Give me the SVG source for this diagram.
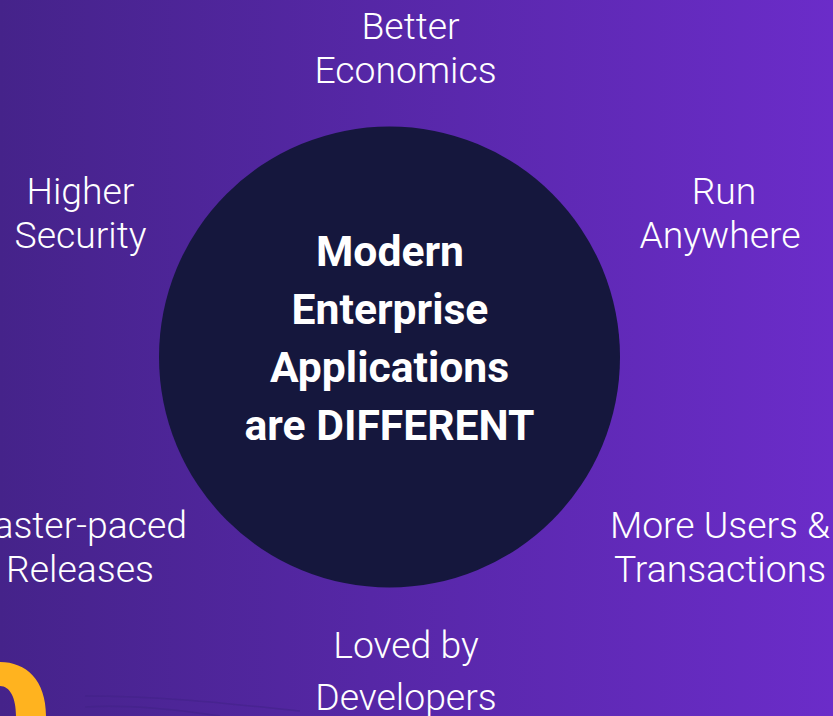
<svg xmlns="http://www.w3.org/2000/svg" width="833" height="716" viewBox="0 0 833 716">
<style>
.l{font-family:Roboto,"Liberation Sans",sans-serif;font-weight:300;font-size:37.33px;fill:#fff;text-anchor:middle}
.c{font-family:Roboto,"Liberation Sans",sans-serif;font-weight:700;font-size:42.67px;fill:#fff;text-anchor:middle}
</style>
<defs><linearGradient id="bg" x1="0" y1="0" x2="1" y2="0"><stop offset="0" stop-color="#45238a"/><stop offset="1" stop-color="#6b2cc9"/></linearGradient></defs>
<rect width="833" height="716" fill="url(#bg)"/>
<g id="wisps" fill="none" stroke="#3f2186" stroke-opacity=".5" stroke-width="1.5">
<path d="M85 696C170 696 240 705 300 711"/>
<path d="M85 707C130 704 180 710 220 716"/>
</g>
<path id="logo" d="M0 662C26 662 46 680 46 716H16C16 698 10 686 0 686Z" fill="#ffb31f"/>
<g id="connectors"/>
<g id="center"><circle cx="389.500" cy="357" r="230.500" fill="#15173d"/>
<text class="c" x="390" y="266">Modern</text>
<text class="c" x="390" y="324">Enterprise</text>
<text class="c" x="389.500" y="382">Applications</text>
<text class="c" x="389.500" y="439.500">are DIFFERENT</text></g>
<g id="economics"><text class="l" x="410.500" y="39">Better</text><text class="l" x="405.500" y="83">Economics</text></g>
<g id="security"><text class="l" x="80.500" y="204">Higher</text><text class="l" x="80.500" y="248">Security</text></g>
<g id="anywhere"><text class="l" x="724" y="204">Run</text><text class="l" x="720" y="248">Anywhere</text></g>
<g id="releases"><text class="l" x="80" y="538">Faster-paced</text><text class="l" x="80" y="582">Releases</text></g>
<g id="users"><text class="l" x="720" y="538">More Users &amp;</text><text class="l" x="720" y="582">Transactions</text></g>
<g id="developers"><text class="l" x="406" y="658">Loved by</text><text class="l" x="406" y="710">Developers</text></g>
</svg>
